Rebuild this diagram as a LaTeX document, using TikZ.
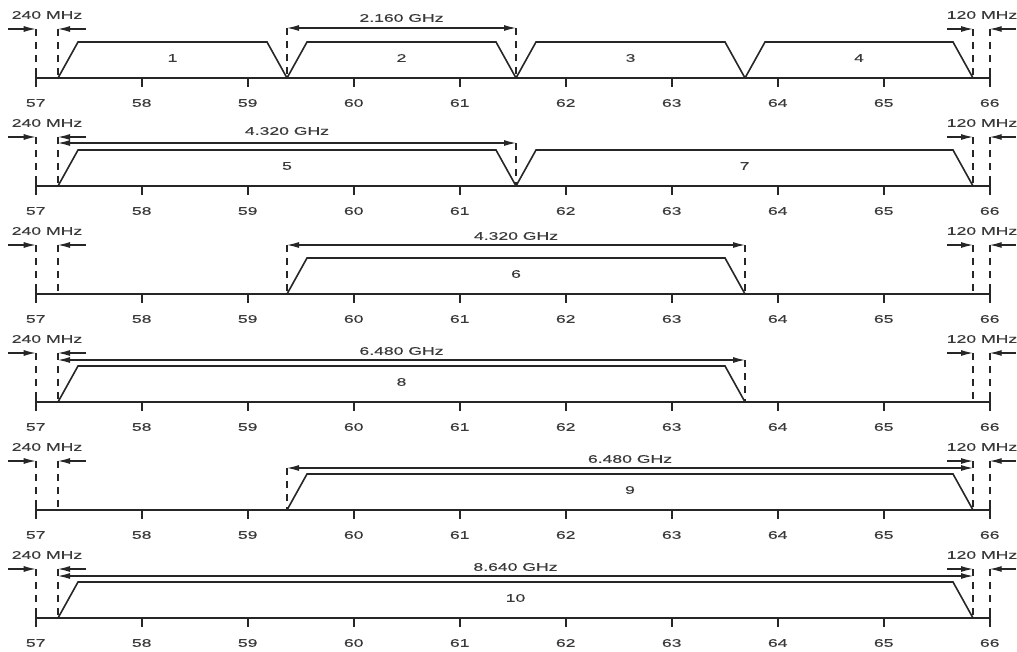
\documentclass[tikz,border=0pt]{standalone}
\usepackage{fontspec}
\newfontfamily\lblfont{Liberation Sans}[FakeStretch=1.6,FakeBold=0.25]
\usetikzlibrary{arrows.meta}
\definecolor{ink}{HTML}{262626}
\definecolor{txt}{HTML}{3A3A3A}
\tikzset{
  line/.style={draw=ink, line width=1.6pt},
  guide/.style={draw=ink, line width=1.6pt, dash pattern=on 7pt off 6pt},
  dim/.style={draw=ink, line width=1.1pt, -{Latex[length=12pt,width=6pt]}},
  dimboth/.style={draw=ink, line width=1.1pt, {Latex[length=12pt,width=6pt]}-{Latex[length=12pt,width=6pt]}},
  lbl/.style={font=\lblfont\fontsize{11}{13}\selectfont, text=txt, inner sep=0pt},
}
% #1 = axis y
\newcommand\axisrow[1]{%
  \draw[line] (35.7,#1) -- (989.7,#1);
  \foreach \k in {1,...,8} \draw[line] (35.7+106*\k,#1) -- (35.7+106*\k,#1+9);
  \foreach \k [evaluate=\k as \v using int(57+\k)] in {0,...,9}
    \node[lbl] (tick-#1-\k) at (35.7+106*\k,#1+25) {\v};
  % low guard 240 MHz
  \coordinate (gla-#1) at (8,#1-49);
  \coordinate (glb-#1) at (35.7,#1-49);
  \coordinate (glc-#1) at (86,#1-49);
  \coordinate (gld-#1) at (58,#1-49);
  \draw[guide] (glb-#1) -- (35.7,#1);
  \draw[line] (35.7,#1-4) -- (35.7,#1+9);
  \draw[guide] (gld-#1) -- (58,#1);
  \draw[dim] (gla-#1) -- (glb-#1);
  \draw[dim] (glc-#1) -- (gld-#1);
  \node[lbl] (lowg-#1) at (47,#1-63) {240 MHz};
  % high guard 120 MHz
  \coordinate (gha-#1) at (947,#1-49);
  \coordinate (ghb-#1) at (973,#1-49);
  \coordinate (ghc-#1) at (1016,#1-49);
  \coordinate (ghd-#1) at (989.7,#1-49);
  \draw[guide] (ghb-#1) -- (973,#1);
  \draw[guide] (ghd-#1) -- (989.7,#1);
  \draw[line] (989.7,#1-4) -- (989.7,#1+9);
  \draw[dim] (gha-#1) -- (ghb-#1);
  \draw[dim] (ghc-#1) -- (ghd-#1);
  \node[lbl] (highg-#1) at (982,#1-63) {120 MHz};
}
% #1 axis y, #2 left x, #3 right x, #4 label
\newcommand\chan[4]{%
  \draw[line, line join=miter] (#2,#1) -- (#2+20,#1-36) -- (#3-20,#1-36) -- (#3,#1);
  \node[lbl] (ch-#4) at ({(#2+#3)/2},#1-20) {#4};
}
% #1 axis y, #2 left x, #3 right x, #4 arrow offset, #5 label offset, #6 text
\newcommand\spanarrow[6]{%
  \coordinate (sa-#1) at (#2,#1-#4);
  \coordinate (sb-#1) at (#3,#1-#4);
  \draw[dimboth] (sa-#1) -- (sb-#1);
  \node[lbl] (sl-#1) at ({(#2+#3)/2},#1-#5) {#6};
}
\newcommand\spanguide[3]{% #1 axis y, #2 x, #3 offset
  \draw[guide] (#2,#1-#3) -- (#2,#1);
}
\begin{document}
\begin{tikzpicture}[x=1pt,y=-1pt]
\useasboundingbox (0,0) rectangle (1017,651);
% row 1
\axisrow{78}
\chan{78}{58}{287}{1}
\chan{78}{287}{516}{2}
\chan{78}{516}{745}{3}
\chan{78}{745}{973}{4}
\spanguide{78}{287}{50}
\spanguide{78}{516}{50}
\spanarrow{78}{287}{516}{50}{60}{2.160 GHz}
% row 2
\axisrow{186}
\chan{186}{58}{516}{5}
\chan{186}{516}{973}{7}
\spanguide{186}{516}{43}
\spanarrow{186}{58}{516}{43}{55}{4.320 GHz}
% row 3
\axisrow{294}
\chan{294}{287}{745}{6}
\spanguide{294}{287}{49}
\spanguide{294}{745}{49}
\spanarrow{294}{287}{745}{49}{58}{4.320 GHz}
% row 4
\axisrow{402}
\chan{402}{58}{745}{8}
\spanguide{402}{745}{42}
\spanarrow{402}{58}{745}{42}{51}{6.480 GHz}
% row 5
\axisrow{510}
\chan{510}{287}{973}{9}
\spanguide{510}{287}{42}
\spanarrow{510}{287}{973}{42}{51}{6.480 GHz}
% row 6
\axisrow{618}
\chan{618}{58}{973}{10}
\spanarrow{618}{58}{973}{42}{51}{8.640 GHz}
\end{tikzpicture}
\end{document}
